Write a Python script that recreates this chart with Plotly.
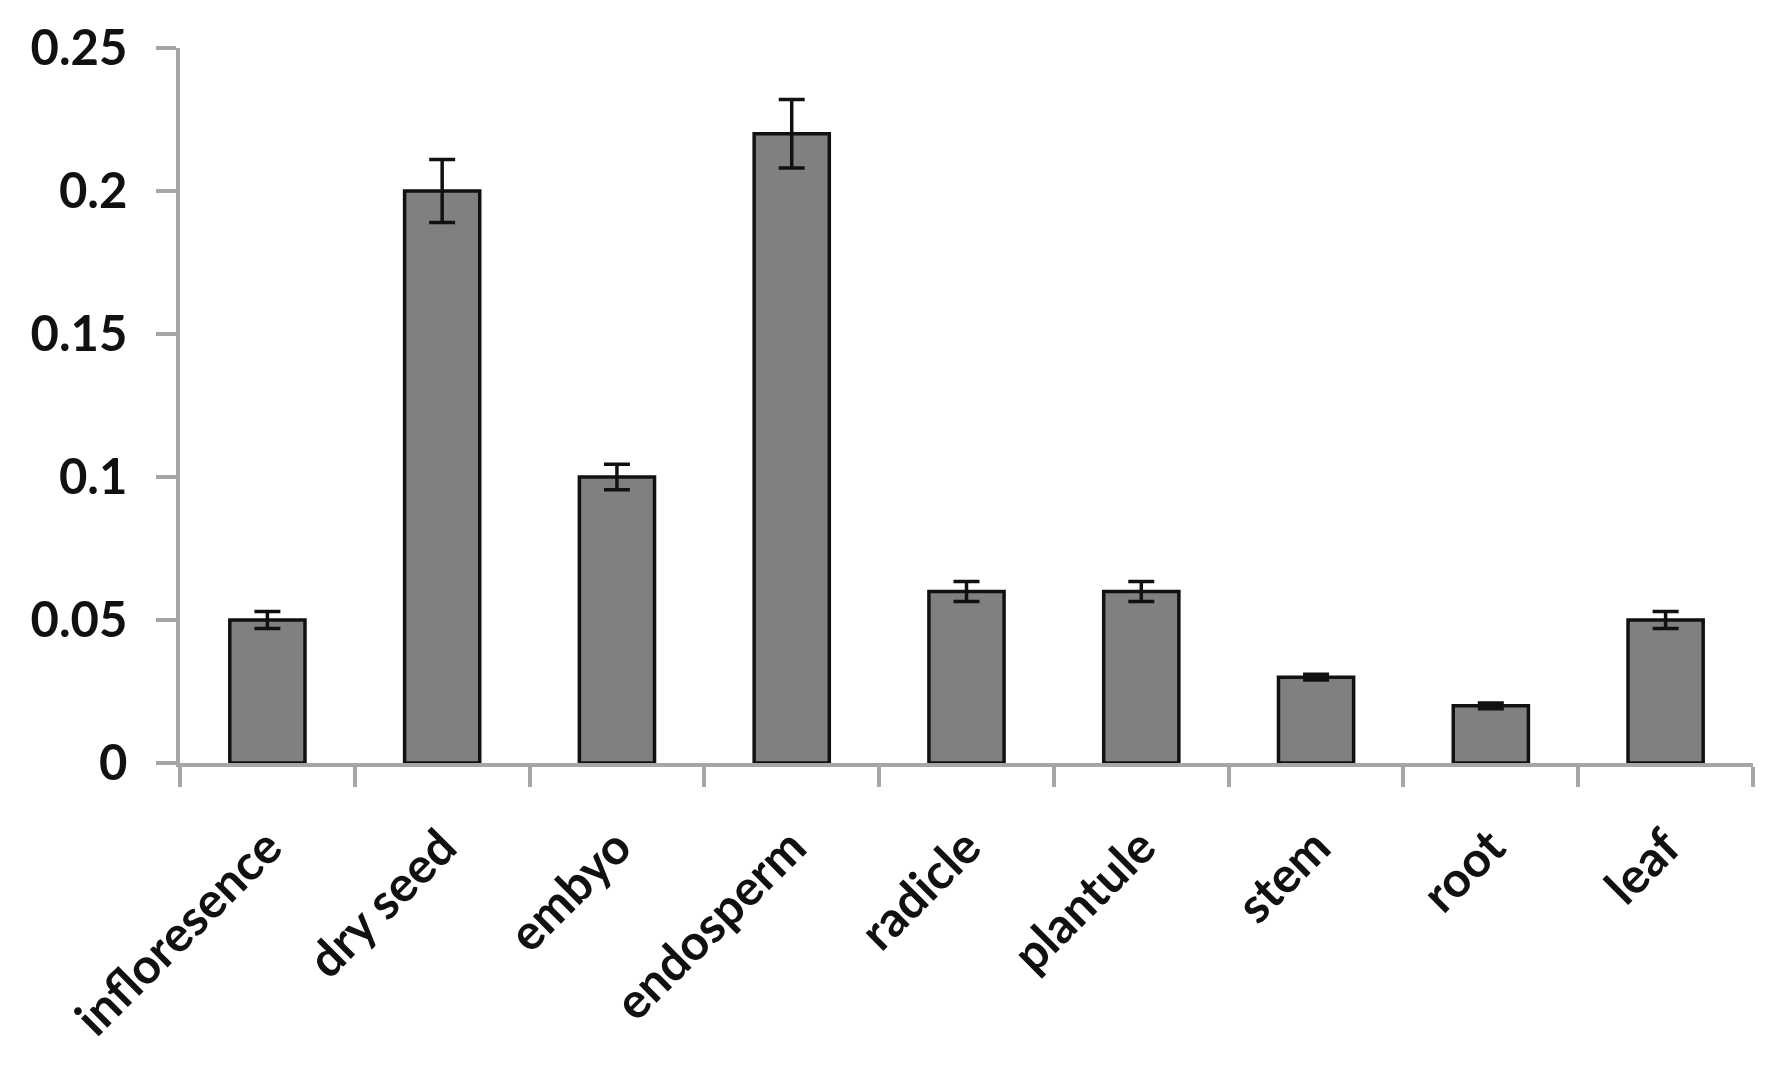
import plotly.graph_objects as go

categories = ["infloresence", "dry seed", "embyo", "endosperm", "radicle",
              "plantule", "stem", "root", "leaf"]
values = [0.05, 0.2, 0.1, 0.22, 0.06, 0.06, 0.03, 0.02, 0.05]
errors = [0.003, 0.011, 0.0045, 0.012, 0.0035, 0.0035, 0.001, 0.001, 0.003]
y_ticks = [0, 0.05, 0.1, 0.15, 0.2, 0.25]
y_tick_labels = ["0", "0.05", "0.1", "0.15", "0.2", "0.25"]

font_family = "Lato, 'Open Sans', sans-serif"
text_color = "#111111"
axis_color = "#a6a6a6"

fig = go.Figure(go.Bar(
    x=categories,
    y=values,
    marker=dict(color="#808080", line=dict(color="#111111", width=3.5)),
    error_y=dict(type="data", array=errors, visible=True,
                 color="#111111", thickness=3.5, width=13),
))

fig.update_layout(
    width=1787, height=1068,
    margin=dict(l=180, r=34, t=48, b=305),
    paper_bgcolor="white", plot_bgcolor="white",
    bargap=0.57,
    showlegend=False,
    font=dict(family=font_family, size=49, color=text_color, weight="bold"),
)

fig.update_xaxes(
    type="category",
    showline=True, linecolor=axis_color, linewidth=3.5,
    ticks="outside", tickson="boundaries", ticklen=20, tickwidth=3.5, tickcolor=axis_color,
    tickangle=-45, ticklabelstandoff=32, showgrid=False, zeroline=False,
    tickfont=dict(family=font_family, size=49, color=text_color, weight="bold"),
)

fig.update_yaxes(
    range=[0, 0.25],
    tickmode="array", tickvals=y_ticks, ticktext=y_tick_labels,
    showline=True, linecolor=axis_color, linewidth=3.5,
    ticks="outside", ticklen=20, tickwidth=3.5, tickcolor=axis_color,
    ticklabelstandoff=19,
    showgrid=False, zeroline=False,
    tickfont=dict(family=font_family, size=49, color=text_color, weight="bold"),
)

fig.write_html("out.html")
